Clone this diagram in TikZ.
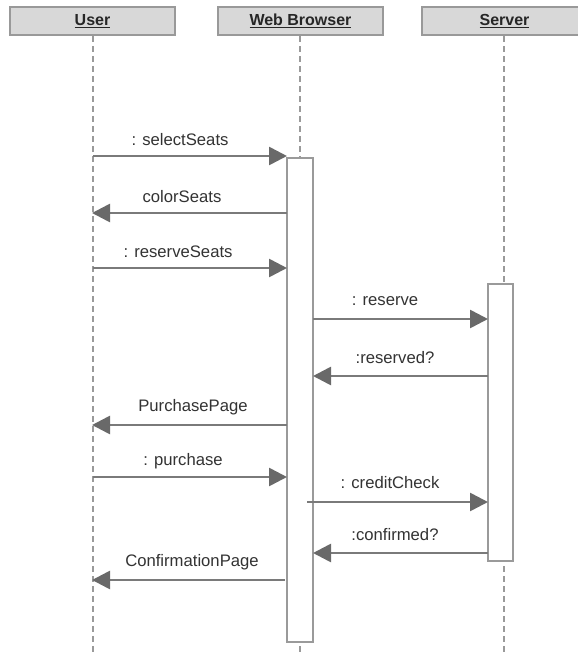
\documentclass[tikz,border=0pt]{standalone}
\usepackage{fontspec}
\setmainfont{Liberation Sans}
\usetikzlibrary{arrows.meta}
\definecolor{headfill}{HTML}{D8D8D8}
\definecolor{headline}{HTML}{999999}
\definecolor{lifecol}{HTML}{9A9A9A}
\definecolor{msgcol}{HTML}{7A7A7A}
\definecolor{tipcol}{HTML}{696969}
\definecolor{labcol}{HTML}{333333}
\tikzset{
  header/.style={draw=headline, fill=headfill, line width=1.5pt,
    minimum width=123.75pt, minimum height=21pt, inner sep=0pt,
    font=\bfseries\fontsize{12}{14}\selectfont, text=black!85},
  lifeline/.style={draw=lifecol, line width=1.4pt, dash pattern=on 4.5pt off 3pt},
  actbox/.style={draw=lifecol, fill=white, line width=1.5pt, inner sep=0pt,
    minimum width=19.5pt},
  msg/.style={draw=msgcol, line width=2pt,
    -{Triangle[length=13.5pt, width=13.5pt, color=tipcol]}},
  msglabel/.style={anchor=base, inner sep=0pt, text=labcol,
    font=\fontsize{12.5}{14}\selectfont},
}
\begin{document}
\begin{tikzpicture}[x=0.75pt, y=-0.75pt]
  \useasboundingbox (0,0) rectangle (578,654);
  \clip (0,0) rectangle (578,654);
  \fill[white] (0,0) rectangle (578,654);

  % participants
  \node[header] (user) at (92.5,21) {\underline{User}};
  \node[header] (web) at (300.5,21) {\underline{Web Browser}};
  \node[header] (server) at (504.5,21) {\underline{Server}};

  % lifeline ends
  \coordinate (userEnd) at (93,654);
  \coordinate (webEnd) at (300,654);
  \coordinate (serverEnd) at (504,654);
  \draw[lifeline] (user.south -| userEnd) -- (userEnd);
  \draw[lifeline] (web.south -| webEnd) -- (webEnd);
  \draw[lifeline] (server.south -| serverEnd) -- (serverEnd);

  % activation bars
  \node[actbox, minimum height=363pt, anchor=north] (webAct) at (300,157) {};
  \node[actbox, minimum height=207.75pt, anchor=north, minimum width=18.75pt] (srvAct) at (500.5,283) {};

  % message end points
  \coordinate (u1) at (93,156);   \coordinate (w1) at (287,156);
  \coordinate (w2) at (287,213);  \coordinate (u2) at (92,213);
  \coordinate (u3) at (93,268);   \coordinate (w3) at (287,268);
  \coordinate (w4) at (313,319);  \coordinate (s4) at (488,319);
  \coordinate (s5) at (488,376);  \coordinate (w5) at (313,376);
  \coordinate (w6) at (287,425);  \coordinate (u6) at (92,425);
  \coordinate (u7) at (93,477);   \coordinate (w7) at (287,477);
  \coordinate (w8) at (307,502);  \coordinate (s8) at (488,502);
  \coordinate (s9) at (488,553);  \coordinate (w9) at (313,553);
  \coordinate (w10) at (285,580); \coordinate (u10) at (92,580);

  % messages
  \draw[msg] (u1) -- (w1);
  \draw[msg] (w2) -- (u2);
  \draw[msg] (u3) -- (w3);
  \draw[msg] (w4) -- (s4);
  \draw[msg] (s5) -- (w5);
  \draw[msg] (w6) -- (u6);
  \draw[msg] (u7) -- (w7);
  \draw[msg] (w8) -- (s8);
  \draw[msg] (s9) -- (w9);
  \draw[msg] (w10) -- (u10);

  % message labels
  \node[msglabel] (l1) at (180,145) {: selectSeats};
  \node[msglabel] (l2) at (182,202) {colorSeats};
  \node[msglabel] (l3) at (178,257) {: reserveSeats};
  \node[msglabel] (l4) at (385,305) {: reserve};
  \node[msglabel] (l5) at (395,363) {:reserved?};
  \node[msglabel] (l6) at (193,411) {PurchasePage};
  \node[msglabel] (l7) at (183,465) {: purchase};
  \node[msglabel] (l8) at (390,488) {: creditCheck};
  \node[msglabel] (l9) at (395,540) {:confirmed?};
  \node[msglabel] (l10) at (192,566) {ConfirmationPage};
\end{tikzpicture}
\end{document}
